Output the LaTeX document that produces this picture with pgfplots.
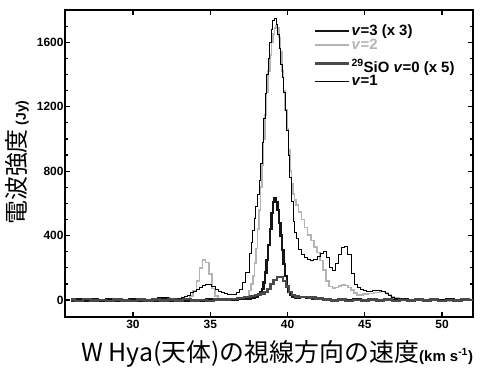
\documentclass[border=0pt]{standalone}
\usepackage{pgfplots}
\pgfplotsset{compat=1.18}
\usepackage{fontspec}
\setsansfont{Liberation Sans}
\newfontfamily\jp{Noto Sans CJK JP}
\definecolor{vtwo}{HTML}{B4B4B4}
\definecolor{sio}{HTML}{4A4A4A}
\definecolor{vthree}{HTML}{151515}
\begin{document}
\begin{tikzpicture}
\path[use as bounding box] (-65bp,-57bp) rectangle (435bp,317bp);
\begin{axis}[
  at={(0,0)}, anchor=south west,
  scale only axis, width=408bp, height=307bp,
  xmin=25.6, xmax=52, ymin=-105, ymax=1800,
  xtick={30,35,40,45,50},
  ytick={0,400,800,1200,1600},
  minor ytick={100,200,300,500,600,700,900,1000,1100,1300,1400,1500,1700},
  tick align=inside,
  major tick length=5bp, minor tick length=3.5bp,
  every tick/.style={line width=1.2bp, black},
  axis line style={line width=1.8bp},
  /pgf/number format/assume math mode=true,
  /pgf/number format/1000 sep={},
  tick label style={font=\fontsize{12}{12}\selectfont\sffamily\bfseries},
  yticklabel style={xshift=2bp},
  xlabel={{\jp W Hya(天体)の視線方向の速度}{\sffamily\bfseries\fontsize{15}{15}\selectfont(km s\textsuperscript{-1})}},
  xlabel style={at={(axis description cs:0.52,0)}, anchor=base, yshift=-44bp, font=\fontsize{25}{25}\selectfont},
  ylabel={{\jp 電波強度}\,{\sffamily\bfseries\fontsize{14}{14}\selectfont(Jy)}},
  ylabel style={at={(axis description cs:-0.0956,0.503)}, anchor=base, rotate=0, font=\fontsize{24}{24}\selectfont},
  legend style={at={(axis description cs:0.603,0.962)}, anchor=north west, draw=none, fill=none,
    font=\fontsize{15}{16}\selectfont\sffamily\bfseries, row sep=0bp,
    nodes={inner sep=1bp}},
  legend cell align=left,
  legend image code/.code={\draw[#1] (0bp,0bp) -- (34bp,0bp);},
]
\addlegendimage{vthree, line width=2.4bp}
\addlegendentry{\textit{v}=3 (x 3)}
\addlegendimage{vtwo, line width=1.6bp}
\addlegendentry{\textcolor{vtwo}{\textit{v}=2}}
\addlegendimage{sio, line width=2.4bp}
\addlegendentry{\rule{0pt}{19bp}\textsuperscript{29}SiO \textit{v}=0 (x 5)}
\addlegendimage{black, line width=0.8bp}
\addlegendentry{\textit{v}=1}

% v=2
\addplot[vtwo, line width=1.6bp, const plot mark mid, forget plot] table {
x y
26.0 -3
26.5 2
27.0 -1
27.5 3
28.0 -2
28.5 1
29.0 -3
29.5 2
30.0 -1
30.5 2
31.0 0
31.4 5
31.8 10
32.2 14
32.6 6
33.0 2
33.4 5
33.6 10
33.8 25
34.0 60
34.2 120
34.4 200
34.6 248
34.8 232
35.0 160
35.2 72
35.4 25
35.6 8
35.8 2
36.0 -2
36.4 1
36.8 3
37.0 5
37.2 10
37.4 20
37.6 60
37.7 100
37.8 150
37.9 230
38.0 320
38.1 440
38.2 560
38.3 700
38.4 840
38.5 1000
38.6 1150
38.7 1290
38.8 1420
38.9 1520
39.0 1600
39.1 1650
39.2 1690
39.3 1705
39.4 1690
39.5 1630
39.6 1540
39.7 1420
39.8 1300
39.9 1180
40.0 1060
40.1 930
40.2 800
40.3 720
40.4 660
40.5 620
40.6 590
40.8 545
41.0 500
41.2 450
41.4 405
41.6 370
41.8 330
42.0 295
42.2 245
42.4 185
42.6 120
42.8 85
43.0 74
43.2 78
43.4 88
43.6 93
43.8 90
44.0 78
44.2 62
44.4 45
44.6 33
44.8 32
45.0 36
45.4 42
45.8 48
46.2 52
46.4 48
46.6 35
46.8 22
47.0 14
47.4 6
47.8 2
48.2 -2
48.6 1
49.0 -3
49.5 2
50.0 -1
50.5 -4
51.0 2
51.5 -2
52.0 0
};

% v=1
\addplot[black, line width=0.8bp, const plot mark mid, forget plot] table {
x y
26.0 3
26.5 -2
27.0 2
27.5 -1
28.0 3
28.5 0
29.0 -2
29.5 2
30.0 0
30.5 3
31.0 4
31.4 9
31.8 16
32.0 19
32.2 17
32.4 12
32.6 7
32.8 5
33.0 8
33.2 15
33.4 22
33.6 32
33.8 45
34.0 55
34.2 66
34.4 78
34.6 88
34.8 96
35.0 97
35.2 86
35.4 68
35.6 55
35.8 45
36.0 40
36.2 36
36.4 35
36.6 37
36.8 45
37.0 65
37.2 110
37.4 170
37.6 290
37.7 360
37.8 430
37.9 505
38.0 580
38.1 655
38.2 740
38.3 850
38.4 980
38.5 1130
38.6 1280
38.7 1400
38.8 1500
38.9 1600
39.0 1680
39.1 1735
39.2 1745
39.3 1710
39.4 1650
39.5 1560
39.6 1460
39.7 1380
39.8 1290
39.9 1180
40.0 1050
40.1 900
40.2 760
40.3 610
40.4 490
40.5 420
40.6 380
40.8 315
41.0 285
41.2 265
41.4 250
41.6 248
41.8 252
42.0 268
42.2 292
42.4 300
42.6 262
42.8 205
43.0 185
43.2 225
43.4 285
43.6 328
43.8 335
44.0 285
44.2 165
44.4 100
44.6 78
44.8 68
45.0 60
45.2 56
45.4 55
45.6 58
45.8 62
46.0 62
46.2 55
46.4 40
46.6 28
46.8 18
47.0 10
47.2 5
47.6 2
48.0 -1
48.5 2
49.0 -2
49.5 1
50.0 3
50.5 -1
51.0 2
51.5 0
52.0 1
};

% v=3 (x3)
\addplot[vthree, line width=2.4bp, const plot mark mid, forget plot] table {
x y
26.0 -5
26.5 4
27.0 -2
27.5 6
28.0 -4
28.5 3
29.0 -6
29.5 2
30.0 5
30.5 -3
31.0 2
31.5 -4
32.0 3
32.5 -2
33.0 4
33.5 -3
34.0 2
34.5 -4
35.0 3
35.5 -1
36.0 2
36.5 4
37.0 6
37.4 9
37.8 13
38.0 20
38.2 35
38.3 50
38.4 68
38.5 110
38.6 170
38.7 250
38.8 340
38.9 440
39.0 540
39.1 610
39.2 635
39.3 610
39.4 560
39.5 480
39.6 400
39.7 310
39.8 225
39.9 150
40.0 85
40.1 50
40.2 35
40.4 20
40.6 16
41.0 18
41.4 14
41.8 10
42.2 6
42.6 2
43.0 -3
43.5 4
44.0 -2
44.5 3
45.0 -5
45.5 2
46.0 -3
46.5 4
47.0 -2
47.5 3
48.0 -4
48.5 2
49.0 -3
49.5 5
50.0 -2
50.5 3
51.0 -4
51.5 2
52.0 0
};

% 29SiO v=0 (x5)
\addplot[sio, line width=2.4bp, const plot mark mid, forget plot] table {
x y
26.0 3
26.5 -4
27.0 5
27.5 -3
28.0 2
28.5 -5
29.0 4
29.5 -2
30.0 -4
30.5 3
31.0 -2
31.5 4
32.0 -3
32.5 3
33.0 -2
33.5 5
34.0 -3
34.5 2
35.0 -4
35.5 3
36.0 4
36.5 6
37.0 12
37.4 20
37.8 27
38.0 30
38.2 34
38.4 40
38.6 50
38.8 70
39.0 98
39.2 126
39.4 143
39.6 142
39.8 118
40.0 85
40.2 50
40.4 30
40.6 22
40.8 18
41.2 20
41.6 15
42.0 10
42.6 4
43.0 -2
43.5 3
44.0 -4
44.5 2
45.0 -3
45.5 4
46.0 -2
46.5 3
47.0 -5
47.5 2
48.0 -3
48.5 4
49.0 -2
49.5 3
50.0 -4
50.5 2
51.0 -3
51.5 4
52.0 0
};
\end{axis}
\end{tikzpicture}
\end{document}
